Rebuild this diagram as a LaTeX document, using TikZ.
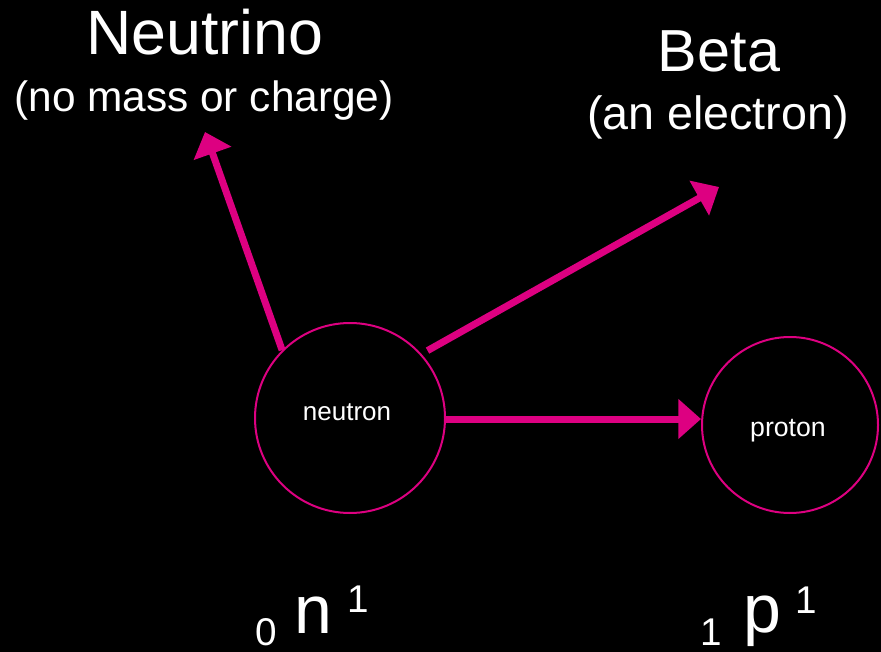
\documentclass[tikz,border=0pt]{standalone}
\usepackage{fontspec}
\setmainfont{Liberation Sans}
\usetikzlibrary{arrows.meta,calc}
\definecolor{mag}{RGB}{221,0,129}
\begin{document}
\begin{tikzpicture}[x=0.75pt,y=-0.75pt,
  txt/.style={text=white, inner sep=0pt, outer sep=0pt, anchor=base},
  particle/.style={circle, draw=mag, line width=1.5pt, minimum size=#1, inner sep=0pt},
  ray/.style={draw=mag, line width=5.25pt, -{Triangle[length=17pt,width=29pt]}}]
\fill[black] (0,0) rectangle (881,652);
\useasboundingbox (0,0) rectangle (881,652);

% particles
\node[particle=142.5pt] (n) at (350,418) {};
\node[particle=132pt] (p) at (790,425) {};
\node[txt, font=\fontsize{19.5pt}{22pt}\selectfont] (nl) at (347,420) {neutron};
\node[txt, font=\fontsize{20pt}{22pt}\selectfont] (pl) at (788,436) {proton};

% titles
\node[txt, font=\fontsize{47pt}{50pt}\selectfont] (nu) at (205,55) {Neutrino};
\node[txt, font=\fontsize{31.8pt}{36pt}\selectfont] (nus) at (204,112) {(no mass or charge)};
\node[txt, font=\fontsize{44.5pt}{48pt}\selectfont] (be) at (719,72) {Beta};
\node[txt, font=\fontsize{35pt}{38pt}\selectfont] (bes) at (718,130) {(an electron)};

% arrow tips
\coordinate (nutip) at (205,132);
\coordinate (betip) at (719,187);
\coordinate (bestart) at ($(n.center)!1.07!(n.41)$);

\draw[ray] (n.135) -- (nutip);
\draw[ray] (bestart) -- (betip);
\draw[ray] ($(n.east)+(0,1)$) -- ($(n.east -| p.west)+(0,1)$);

% nuclide symbols
\node[txt, font=\fontsize{29pt}{32pt}\selectfont] (n0) at (266,645) {0};
\node[txt, font=\fontsize{51pt}{56pt}\selectfont] (nn) at (313,633) {n};
\node[txt, font=\fontsize{29pt}{32pt}\selectfont] (n1) at (358,612) {1};
\node[txt, font=\fontsize{29pt}{32pt}\selectfont] (p1a) at (711,645) {1};
\node[txt, font=\fontsize{51pt}{56pt}\selectfont] (pp) at (762,632) {p};
\node[txt, font=\fontsize{29pt}{32pt}\selectfont] (p1b) at (806,613) {1};
\end{tikzpicture}
\end{document}
